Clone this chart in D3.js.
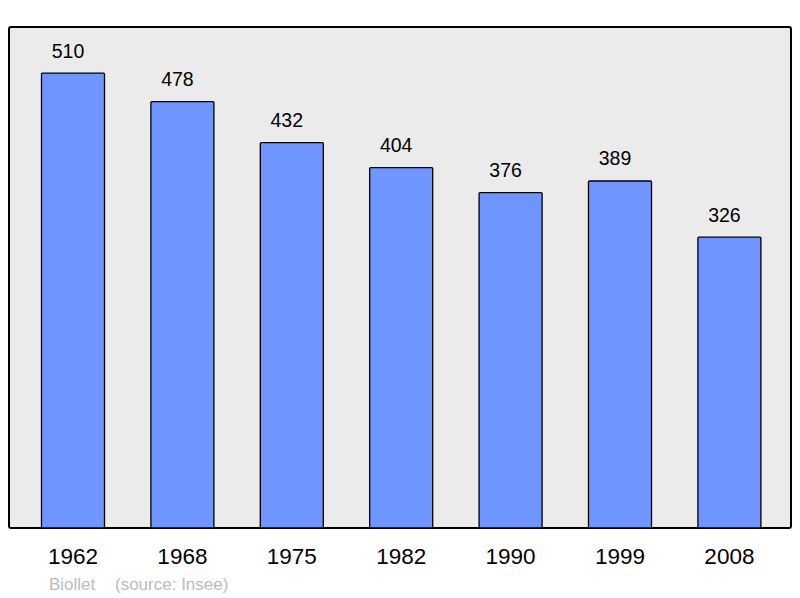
<!DOCTYPE html>
<html><head><meta charset="utf-8">
<script src="https://cdn.jsdelivr.net/npm/d3@7"></script>
<style>body{margin:0;background:#fff}svg{display:block}text{font-family:"Liberation Sans",Arial,sans-serif}</style>
</head><body>
<script>
const years = ["1962","1968","1975","1982","1990","1999","2008"];
const population = [510,478,432,404,376,389,326];
const footerAuthor = "Biollet";
const footerSource = "(source: Insee)";

const W=800,H=598;
const svg=d3.select("body").append("svg").attr("width",W).attr("height",H);
const panel={x:9,y:27,w:782,h:501};
svg.append("rect").attr("x",panel.x).attr("y",panel.y).attr("width",panel.w).attr("height",panel.h)
  .attr("rx",2).attr("fill","#ebebeb").attr("stroke","#000").attr("stroke-width",2);

const x=d3.scaleBand().domain(years).range([18.3,784.1]).paddingInner(0.424).paddingOuter(0.212);
const y=d3.scaleLinear().domain([0,561.6]).range([528,27]);

svg.selectAll("rect.bar").data(population).join("rect").attr("class","bar")
  .attr("x",(d,i)=>x(years[i])).attr("width",x.bandwidth())
  .attr("y",d=>y(d)).attr("height",d=>y(0)-y(d))
  .attr("fill","#7095ff").attr("stroke","#000").attr("stroke-width",1.3).attr("rx",1);

svg.selectAll("text.val").data(population).join("text").attr("class","val")
  .attr("x",(d,i)=>x(years[i])+x.bandwidth()/2-5).attr("y",d=>y(d)-15.5)
  .attr("text-anchor","middle").attr("font-size",19.5).attr("fill","#000").text(d=>d);

const ax=svg.append("g").attr("transform","translate(0,528)").call(d3.axisBottom(x).tickSize(0).tickPadding(0));
ax.select(".domain").remove();
ax.selectAll("text").attr("y",36).attr("dy",0).attr("font-size",22.5).attr("fill","#000")
  .style("font-family",'"Liberation Sans",Arial,sans-serif');

svg.append("text").attr("x",49).attr("y",590).attr("font-size",17).attr("fill","#bbb").text(footerAuthor);
svg.append("text").attr("x",115).attr("y",590).attr("font-size",17).attr("fill","#bbb").text(footerSource);
</script>
</body></html>
